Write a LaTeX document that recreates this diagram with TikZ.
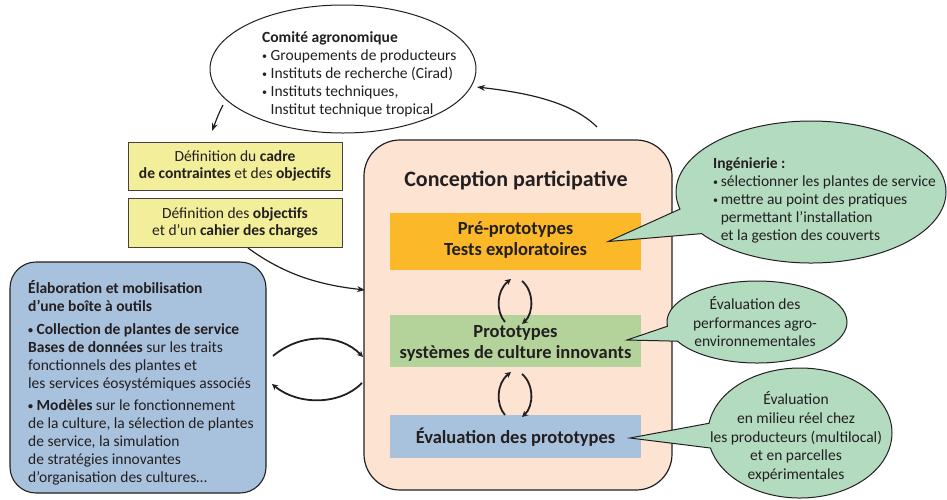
\documentclass[tikz,border=0pt]{standalone}
\usepackage{fontspec}
\setmainfont{Carlito}
\usetikzlibrary{arrows.meta,shapes.geometric,shapes.callouts}
\definecolor{tc}{HTML}{231F20}
\definecolor{peach}{HTML}{FDE3D2}
\definecolor{orangebox}{HTML}{FBB829}
\definecolor{greenbox}{HTML}{B4D39A}
\definecolor{bluebox}{HTML}{A8C1DC}
\definecolor{yellowbox}{HTML}{F2EE99}
\definecolor{bubble}{HTML}{B3DBC0}
\newcommand\mybul{\raisebox{1pt}{\fontsize{10}{10}\selectfont •}}
\begin{document}
\begin{tikzpicture}[x=1pt,y=-1pt,
  body/.style={font=\fontsize{15.5}{18}\selectfont, text=tc, inner sep=0pt},
  boxtxt/.style={font=\fontsize{18.5}{21}\selectfont\bfseries, text=tc, inner sep=0pt, align=center},
  inbox/.style={draw=none, minimum width=251pt, inner sep=0pt},
  ybox/.style={draw=tc!85, line width=1pt, fill=yellowbox, minimum width=214pt, inner sep=0pt},
  arr/.style={line width=1.2pt, tc, -{Stealth[length=8pt,width=6pt]}},
  cyc/.style={line width=1.8pt, tc, -{Stealth[length=6pt,width=6pt]}},
  bub/.style={ellipse callout, draw=tc, line width=1pt, fill=bubble, inner sep=0pt, callout pointer arc=22}
]
\useasboundingbox (0,0) rectangle (947,499);

% top ellipse
\node[ellipse, draw=tc, line width=1pt, fill=white, minimum width=266pt, minimum height=128pt, inner sep=0pt] (comite) at (343,69) {};
\node[body, align=left, anchor=north west] (comitetxt) at (262,31)
  {\textbf{Comité agronomique}\\ \mybul\ Groupements de producteurs\\ \mybul\ Instituts de recherche (Cirad)\\ \mybul\ Instituts techniques,\\ \hphantom{\mybul\ }Institut technique tropical};

% yellow boxes
\node[ybox, minimum height=48pt] (cadre) at (235,166) {};
\node[body, align=center, font=\fontsize{15.5}{17}\selectfont] (cadretxt) at (235,166) {Définition du \textbf{cadre}\\ \textbf{de contraintes} et des \textbf{objectifs}};
\node[ybox, minimum height=49pt] (cahier) at (235,222.5) {};
\node[body, align=center, font=\fontsize{15.5}{17}\selectfont] (cahiertxt) at (235,222.5) {Définition des \textbf{objectifs}\\ et d’un \textbf{cahier des charges}};

% big box
\draw[tc, line width=1.2pt, fill=peach, rounded corners=36pt] (364,140) rectangle (672,490);
\coordinate (bigW1) at (365,290);
\node[font=\fontsize{22}{24}\selectfont\bfseries, text=tc, inner sep=0pt] (title) at (516,180) {Conception participative};
\node[inbox, fill=orangebox, minimum height=57pt] (pre) at (515.5,241.5) {};
\node[boxtxt] (pretxt) at (515.5,240.5) {Pré-prototypes\\ Tests exploratoires};
\node[inbox, fill=greenbox, minimum height=52pt] (proto) at (515.5,341) {};
\node[boxtxt] (prototxt) at (515.5,343) {Prototypes\\ systèmes de culture innovants};
\node[inbox, fill=bluebox, minimum height=43pt] (eval) at (515.5,436.5) {};
\node[boxtxt] (evaltxt) at (515.5,437) {Évaluation des prototypes};

% left box
\draw[tc, line width=1.1pt, fill=bluebox, rounded corners=26pt] (10,262) rectangle (266,493);
\node[body, align=left, anchor=north west] (outils) at (28,280)
  {\textbf{Élaboration et mobilisation}\\ \textbf{d’une boîte à outils}\\[5pt]
   \textbf{\mybul\ Collection de plantes de service}\\ \textbf{Bases de données} sur les traits\\ fonctionnels des plantes et\\ les services éosystémiques associés\\[4pt]
   \textbf{\mybul\ Modèles} sur le fonctionnement\\ de la culture, la sélection de plantes\\ de service, la simulation\\ de stratégies innovantes\\ d’organisation des cultures…};

% connectors
\coordinate (a1s) at (223,105);
\coordinate (a1e) at (212,131);
\draw[arr] (a1s) .. controls (219,113) .. (a1e);
\coordinate (a2s) at (597,127);
\coordinate (a2e) at (477,87);
\draw[arr] (a2s) .. controls (570,100) and (520,92) .. (a2e);
\coordinate (a3s) at (248,248);
\draw[arr] (a3s) .. controls (285,275) and (320,285) .. (bigW1);

% left cycle
\coordinate (l1s) at (273,356);
\coordinate (l1e) at (363,357);
\draw[cyc] (l1s) .. controls (300,333) and (340,333) .. (l1e);
\coordinate (l2s) at (362,383);
\coordinate (l2e) at (272,384);
\draw[cyc] (l2s) .. controls (340,405.5) and (298,405.5) .. (l2e);

% inner cycles
\coordinate (c1s) at (505,322); \coordinate (c1e) at (511,279);
\draw[cyc] (c1s) .. controls (496,312) and (496,291) .. (c1e);
\coordinate (c2s) at (522,281); \coordinate (c2e) at (522,324);
\draw[cyc] (c2s) .. controls (534,291) and (534,313) .. (c2e);
\coordinate (c3s) at (505,415); \coordinate (c3e) at (511,372);
\draw[cyc] (c3s) .. controls (496,405) and (496,384) .. (c3e);
\coordinate (c4s) at (522,374); \coordinate (c4e) at (522,417);
\draw[cyc] (c4s) .. controls (534,384) and (534,406) .. (c4e);

% bubbles
\node[bub, minimum width=270pt, minimum height=142pt, callout absolute pointer={(pre.east)+(-33,0)}] (ing) at (811,192) {};
\node[body, align=left, anchor=north west] (ingtxt) at (713,157)
  {\textbf{Ingénierie :}\\ \mybul\,sélectionner les plantes de service\\ \mybul\,mettre au point des pratiques\\ \hphantom{\mybul\,}permettant l’installation\\ \hphantom{\mybul\,}et la gestion des couverts};
\node[bub, minimum width=180pt, minimum height=82pt, callout absolute pointer={(627,340)}] (perf) at (757,322) {};
\node[body, align=center, font=\fontsize{15.5}{18.5}\selectfont] (perftxt) at (755,322) {Évaluation des\\ performances agro-\\ environnementales};
\node[bub, minimum width=184pt, minimum height=130pt, callout absolute pointer={(630,438)}] (reel) at (800,433) {};
\node[body, align=center, font=\fontsize{15.5}{18.75}\selectfont] (reeltxt) at (796,437) {Évaluation\\ en milieu réel chez\\ les producteurs (multilocal)\\ et en parcelles\\ expérimentales};
\end{tikzpicture}
\end{document}
